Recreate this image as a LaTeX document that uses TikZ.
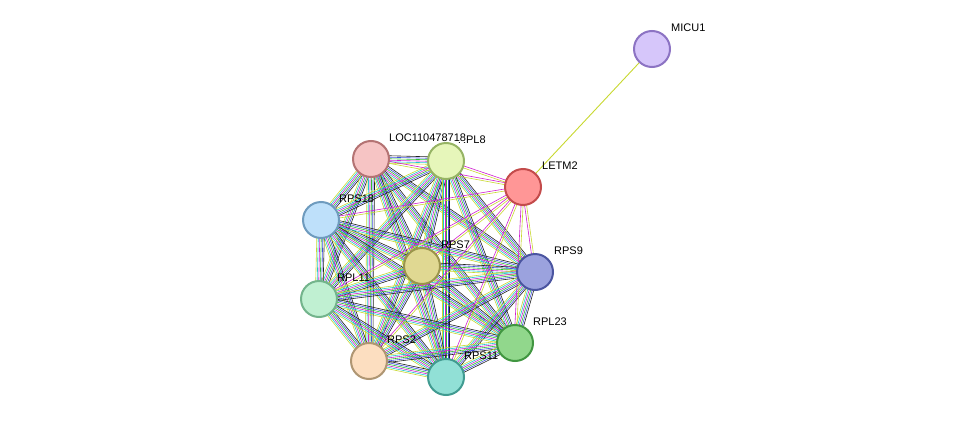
\documentclass[tikz,border=0pt]{standalone}
\usepackage{fontspec}
\setmainfont{Liberation Sans}
\usetikzlibrary{calc}

\definecolor{dbE}{HTML}{20C8D0}
\definecolor{expE}{HTML}{D020D0}
\definecolor{nbE}{HTML}{30C030}
\definecolor{coE}{HTML}{202020}
\definecolor{txE}{HTML}{C8D830}
\definecolor{ocE}{HTML}{4050E0}

\tikzset{
  prot/.style={circle,minimum size=36pt,inner sep=0pt,line width=2pt},
  plabel/.style={anchor=west,font=\fontsize{11}{13}\selectfont,inner sep=0pt},
  edge/.style={line width=.6pt}
}

\begin{document}
\begin{tikzpicture}[x=1pt,y=-1pt]
  \useasboundingbox (0,0) rectangle (976,423);
  % protein positions
  \coordinate (micu) at (652,49);
  \coordinate (letm) at (523,187);
  \coordinate (loc) at (371,159);
  \coordinate (rpleight) at (446,161);
  \coordinate (rpseighteen) at (321,220);
  \coordinate (rpsseven) at (422,266);
  \coordinate (rpsnine) at (535,272);
  \coordinate (rpleleven) at (319,299);
  \coordinate (rpltwenty) at (515,343);
  \coordinate (rpstwo) at (369,361);
  \coordinate (rpseleven) at (446,377);

  % ribosomal cluster, all pairs
  \foreach \a [count=\i] in {loc,rpleight,rpseighteen,rpsseven,rpsnine,rpleleven,rpltwenty,rpstwo,rpseleven}{
    \foreach \b [count=\j] in {loc,rpleight,rpseighteen,rpsseven,rpsnine,rpleleven,rpltwenty,rpstwo,rpseleven}{
      \ifnum\i<\j
        \foreach \c [count=\k] in {txE,dbE,expE,nbE,ocE,coE}{
          \pgfmathsetmacro\o{(\k-3.5)*1.5}
          \draw[edge,\c] ($(\a)!\o pt!90:(\b)$) -- ($(\b)!\o pt!-90:(\a)$);
        }
      \fi
    }
  }
  % LETM2 links
  \foreach \b in {loc,rpleight,rpseighteen,rpsseven,rpsnine,rpleleven,rpltwenty,rpstwo,rpseleven}{
    \draw[edge,txE] ($(letm)!1pt!90:(\b)$) -- ($(\b)!1pt!-90:(letm)$);
    \draw[edge,expE] ($(letm)!-1pt!90:(\b)$) -- ($(\b)!-1pt!-90:(letm)$);
  }
  \draw[edge,txE,line width=.9pt] (micu) -- (letm);

  % proteins
  \node[prot,fill={rgb,255:red,214;green,198;blue,250},draw={rgb,255:red,140;green,115;blue,195}] (MICU1) at (micu) {};
  \node[prot,fill={rgb,255:red,255;green,150;blue,150},draw={rgb,255:red,195;green,75;blue,75}] (LETM2) at (letm) {};
  \node[prot,fill={rgb,255:red,246;green,196;blue,196},draw={rgb,255:red,180;green,115;blue,115}] (LOC) at (loc) {};
  \node[prot,fill={rgb,255:red,230;green,246;blue,186},draw={rgb,255:red,150;green,180;blue,100}] (RPL8) at (rpleight) {};
  \node[prot,fill={rgb,255:red,190;green,224;blue,250},draw={rgb,255:red,110;green,155;blue,190}] (RPS18) at (rpseighteen) {};
  \node[prot,fill={rgb,255:red,224;green,216;blue,146},draw={rgb,255:red,155;green,148;blue,75}] (RPS7) at (rpsseven) {};
  \node[prot,fill={rgb,255:red,155;green,162;blue,222},draw={rgb,255:red,75;green,85;blue,160}] (RPS9) at (rpsnine) {};
  \node[prot,fill={rgb,255:red,192;green,240;blue,210},draw={rgb,255:red,115;green,180;blue,140}] (RPL11) at (rpleleven) {};
  \node[prot,fill={rgb,255:red,145;green,215;blue,140},draw={rgb,255:red,65;green,150;blue,65}] (RPL23) at (rpltwenty) {};
  \node[prot,fill={rgb,255:red,252;green,222;blue,192},draw={rgb,255:red,175;green,150;blue,115}] (RPS2) at (rpstwo) {};
  \node[prot,fill={rgb,255:red,145;green,224;blue,214},draw={rgb,255:red,65;green,155;blue,145}] (RPS11) at (rpseleven) {};

  % labels
  \node[plabel] at ($(MICU1)+(19,-21)$) {MICU1};
  \node[plabel] at ($(LETM2)+(19,-21)$) {LETM2};
  \node[plabel] at ($(RPL8)+(12,-21)$) {RPL8};
  \node[plabel,fill=white,inner xsep=0pt] at ($(LOC)+(18,-21)$) {LOC110478718};
  \node[plabel] at ($(RPS18)+(18,-21)$) {RPS18};
  \node[plabel] at ($(RPS7)+(19,-21)$) {RPS7};
  \node[plabel] at ($(RPS9)+(19,-21)$) {RPS9};
  \node[plabel] at ($(RPL11)+(18,-21)$) {RPL11};
  \node[plabel] at ($(RPL23)+(18,-21)$) {RPL23};
  \node[plabel] at ($(RPS2)+(18,-21)$) {RPS2};
  \node[plabel] at ($(RPS11)+(18,-21)$) {RPS11};
\end{tikzpicture}
\end{document}
